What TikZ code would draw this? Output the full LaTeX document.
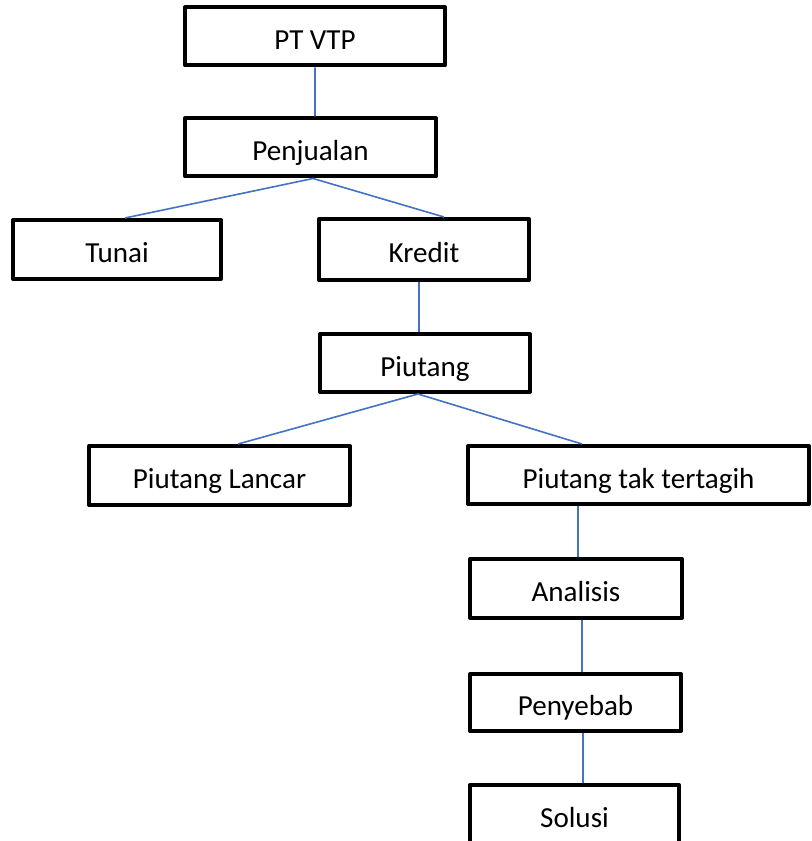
\documentclass[tikz,border=0pt]{standalone}
\usepackage{fontspec}
\setmainfont{Carlito}
\definecolor{linkblue}{RGB}{68,114,196}

\begin{document}
\begin{tikzpicture}[x=0.75pt,y=-0.75pt,
  box/.style={draw,line width=3pt,line join=round,fill=white,inner sep=0pt,
    minimum height=43.5pt,text height=19.5pt,text depth=0pt,
    font=\fontsize{21.8}{26}\selectfont},
  link/.style={draw=linkblue,line width=1.2pt}]
  \useasboundingbox (0,0) rectangle (811,841);
  \fill[white] (0,0) rectangle (811,841);
  \node (ptvtp) at (315,36.5) [box,minimum width=195pt] {PT VTP};
  \node (pen) at (310.5,147.5) [box,minimum width=188.25pt] {Penjualan};
  \node (tunai) at (117,249.5) [box,minimum width=156pt,minimum height=44.25pt] {Tunai};
  \node (kredit) at (424,249.5) [box,minimum width=157.5pt,minimum height=45.75pt] {Kredit};
  \node (piutang) at (425,363) [box,minimum width=157.5pt] {Piutang};
  \node (lancar) at (219.5,475.5) [box,minimum width=195.75pt,minimum height=44.25pt] {Piutang Lancar};
  \node (tak) at (638.5,475) [box,minimum width=255.75pt] {Piutang tak tertagih};
  \node (ana) at (576,588.5) [box,minimum width=159pt,minimum height=44.25pt] {Analisis};
  \node (peny) at (575.5,702.5) [box,minimum width=158.25pt,minimum height=42.75pt] {Penyebab};
  \node (sol) at (574.5,814.5) [box,minimum width=156.75pt,minimum height=44.25pt] {Solusi};
  % blue connectors
  \draw[link] (ptvtp.south) -- ([xshift=3.4pt]pen.north);
  \draw[link] ([xshift=6pt]tunai.north) -- ([xshift=1.9pt]pen.south) -- ([xshift=15pt]kredit.north);
  \draw[link] ([xshift=-3.75pt]kredit.south) -- ([xshift=-4.5pt]piutang.north);
  \draw[link] ([xshift=13.9pt]lancar.north) -- ([xshift=-5.25pt]piutang.south) -- ([xshift=-42.4pt]tak.north);
  \draw[link] ([xshift=-45.4pt]tak.south) -- ([xshift=1.5pt]ana.north);
  \draw[link] ([xshift=4.5pt]ana.south) -- ([xshift=4.9pt]peny.north);
  \draw[link] ([xshift=5.6pt]peny.south) -- ([xshift=6.4pt]sol.north);
\end{tikzpicture}
\end{document}
